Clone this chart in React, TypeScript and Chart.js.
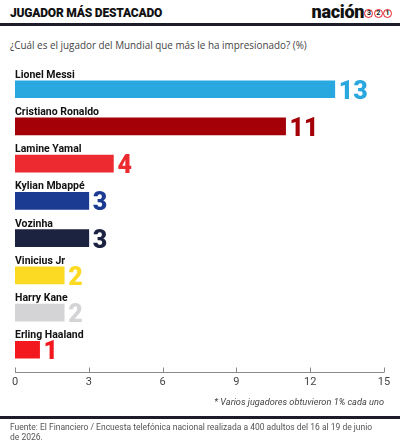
import React, { useEffect, useRef } from "react";
import { Chart, registerables } from "chart.js";

Chart.register(...registerables);

const players = [
  "Lionel Messi",
  "Cristiano Ronaldo",
  "Lamine Yamal",
  "Kylian Mbappé",
  "Vozinha",
  "Vinicius Jr",
  "Harry Kane",
  "Erling Haaland",
];
const percentages = [13, 11, 4, 3, 3, 2, 2, 1];
const barColors = [
  "#29a7df",
  "#a40008",
  "#ec2a30",
  "#1b3b93",
  "#1c2340",
  "#fcd923",
  "#d4d4d6",
  "#f2181e",
];
const xTicks = [0, 3, 6, 9, 12, 15];

const FONT = "Roboto, 'Liberation Sans', sans-serif";

const labelPlugin = {
  id: "labelPlugin",
  afterDatasetsDraw(chart: any) {
    const ctx = chart.ctx;
    const meta = chart.getDatasetMeta(0);
    const left = chart.chartArea.left;
    ctx.save();
    meta.data.forEach((bar: any, i: number) => {
      const top = bar.y - bar.height / 2;
      const bottom = bar.y + bar.height / 2;
      ctx.fillStyle = "#111";
      ctx.font = `bold 10.5px ${FONT}`;
      ctx.textAlign = "left";
      ctx.textBaseline = "alphabetic";
      ctx.fillText(players[i], left, top - 3);
      ctx.fillStyle = barColors[i];
      ctx.font = `900 25px ${FONT}`;
      ctx.fillText(String(percentages[i]), bar.x + 4, bottom + 1);
    });
    ctx.restore();
  },
  afterDraw(chart: any) {
    const ctx = chart.ctx;
    const xs = chart.scales.x;
    const y = Math.round(chart.chartArea.bottom + 4) + 0.5;
    ctx.save();
    ctx.strokeStyle = "#8a8a8a";
    ctx.lineWidth = 1;
    ctx.beginPath();
    ctx.moveTo(xs.getPixelForValue(xTicks[0]), y);
    ctx.lineTo(xs.getPixelForValue(xTicks[xTicks.length - 1]), y);
    xTicks.forEach((t) => {
      const px = Math.round(xs.getPixelForValue(t)) + 0.5;
      ctx.moveTo(px, y);
      ctx.lineTo(px, y - 5);
    });
    ctx.stroke();
    ctx.restore();
  },
};

function BarChart() {
  const ref = useRef<HTMLCanvasElement>(null);
  useEffect(() => {
    if (!ref.current) return;
    const chart = new Chart(ref.current, {
      type: "bar",
      data: {
        labels: players,
        datasets: [
          {
            data: percentages,
            backgroundColor: barColors,
            borderWidth: 0,
            barThickness: 17,
          },
        ],
      },
      options: {
        indexAxis: "y",
        animation: false,
        responsive: true,
        maintainAspectRatio: false,
        layout: { padding: { left: 15, right: 16, top: 10.6, bottom: 8.4 } },
        plugins: { legend: { display: false }, tooltip: { enabled: false } },
        scales: {
          y: { display: false },
          x: {
            min: 0,
            max: 15,
            afterBuildTicks: (scale: any) => {
              scale.ticks = xTicks.map((v) => ({ value: v }));
            },
            grid: { display: false, drawTicks: false },
            border: { display: false },
            ticks: {
              padding: 7,
              color: "#444",
              font: { family: FONT, size: 11 },
            },
          },
        },
      },
      plugins: [labelPlugin],
    });
    return () => chart.destroy();
  }, []);
  return <canvas ref={ref} />;
}

export default function App() {
  return (
    <div
      style={{
        position: "fixed",
        left: 0,
        top: 0,
        width: 400,
        height: 447,
        background: "#fff",
        fontFamily: FONT,
        overflow: "hidden",
      }}
    >
      <div
        style={{
          position: "absolute",
          left: 10,
          top: 6,
          fontSize: 12,
          fontWeight: 900,
          color: "#111",
          letterSpacing: -0.2,
        }}
      >
        JUGADOR MÁS DESTACADO
      </div>
      <div
        style={{
          position: "absolute",
          right: 8,
          top: 1,
          display: "flex",
          alignItems: "center",
        }}
      >
        <span style={{ fontSize: 18, fontWeight: 900, color: "#111", letterSpacing: -0.3 }}>nación</span>
        {["3", "2", "1"].map((d) => (
          <span
            key={d}
            style={{
              display: "inline-block",
              width: 7,
              height: 7,
              border: "1.4px solid #e21b23",
              borderRadius: "50%",
              fontSize: 7,
              lineHeight: "7px",
              fontWeight: 700,
              textAlign: "center",
              color: "#111",
              marginLeft: 0.3,
              marginTop: 4,
            }}
          >
            {d}
          </span>
        ))}
      </div>
      <div
        style={{
          position: "absolute",
          left: 0,
          top: 23,
          width: 400,
          height: 3,
          background: "#1c1c2a",
        }}
      />
      <div
        style={{
          position: "absolute",
          left: 10,
          top: 38,
          fontSize: 9.9,
          fontFamily: "'Open Sans', sans-serif",
          color: "#444",
        }}
      >
        ¿Cuál es el jugador del Mundial que más le ha impresionado? (%)
      </div>
      <div style={{ position: "absolute", left: 0, top: 60, width: 400, height: 344 }}>
        <BarChart />
      </div>
      <div
        style={{
          position: "absolute",
          right: 16,
          top: 396,
          fontSize: 9.2,
          fontStyle: "italic",
          color: "#444",
        }}
      >
        * Varios jugadores obtuvieron 1% cada uno
      </div>
      <div
        style={{
          position: "absolute",
          left: 0,
          top: 416,
          width: 400,
          height: 3,
          background: "#1c1c2a",
        }}
      />
      <div
        style={{
          position: "absolute",
          left: 10,
          top: 422,
          fontSize: 8.5,
          lineHeight: "10px",
          color: "#555",
        }}
      >
        Fuente: El Financiero / Encuesta telefónica nacional realizada a 400 adultos del 16 al 19 de junio
        <br />
        de 2026.
      </div>
    </div>
  );
}
